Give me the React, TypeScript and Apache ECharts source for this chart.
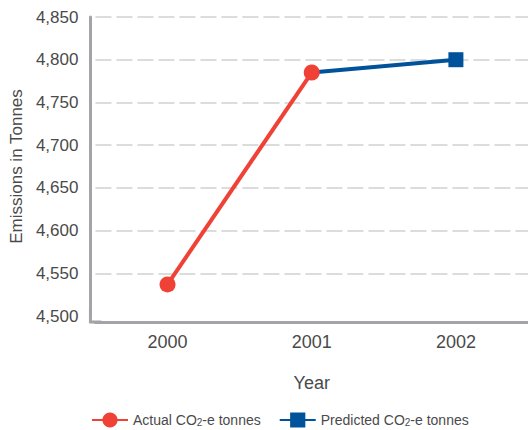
import React, { useEffect, useRef } from "react";
import * as echarts from "echarts";

// Emissions by year
const years = ["2000", "2001", "2002"];
const actualTonnes: (number | null)[] = [4537, 4785, null];
const predictedTonnes: (number | null)[] = [null, 4785, 4800];
const seriesNames = ["Actual CO2-e tonnes", "Predicted CO2-e tonnes"];
const yMin = 4500;
const yMax = 4850;
const yStep = 50;

const FONT = "'Liberation Sans', Arial, Helvetica, sans-serif";
const TEXT = "#4a4a4a";
const AXIS = "#a3a3a8";
const RED = "#ef4136";
const BLUE = "#00529b";

export default function App() {
  const ref = useRef<HTMLDivElement>(null);

  useEffect(() => {
    document.body.style.margin = "0";
    if (!ref.current) return;
    const chart = echarts.init(ref.current, undefined, { renderer: "svg" });

    const predictedData = predictedTonnes.map((v, i) =>
      v === null ? null : i === 1 ? { value: v, symbol: "none" } : v
    );

    chart.setOption({
      animation: false,
      textStyle: { fontFamily: FONT },
      grid: { left: 90, right: -12, top: 17, bottom: 114, containLabel: false },
      xAxis: {
        type: "category",
        data: years,
        boundaryGap: true,
        offset: 6,
        name: "Year",
        nameLocation: "middle",
        nameGap: 52,
        nameTextStyle: { color: TEXT, fontSize: 18, fontFamily: FONT },
        axisLine: {
          lineStyle: { color: AXIS, width: 3 },
          symbol: ["rect", "none"],
          symbolSize: [3, 12],
        },
        axisTick: { show: false },
        axisLabel: { color: TEXT, fontSize: 18, margin: 11, fontFamily: FONT },
        splitLine: { show: false },
      },
      yAxis: {
        type: "value",
        min: yMin,
        max: yMax,
        interval: yStep,
        offset: 5,
        name: "Emissions in Tonnes",
        nameLocation: "middle",
        nameGap: 49,
        nameTextStyle: { color: TEXT, fontSize: 17, fontFamily: FONT },
        axisLine: {
          show: true,
          lineStyle: { color: AXIS, width: 3 },
          symbol: ["rect", "none"],
          symbolSize: [3, 14],
        },
        axisTick: { show: false },
        axisLabel: {
          color: TEXT,
          fontSize: 17,
          margin: 12,
          fontFamily: FONT,
          formatter: (v: number) => v.toLocaleString("en-US"),
        },
        splitLine: {
          show: true,
          showMinLine: false,
          lineStyle: { color: "#dcdcdc", width: 2, type: [16, 5] },
        },
      },
      legend: {
        left: 86,
        top: 407,
        itemWidth: 36,
        itemHeight: 19,
        itemGap: 18,
        data: seriesNames,
        formatter: (name: string) => name.replace("CO2", "CO{sub|2}"),
        textStyle: {
          color: TEXT,
          fontSize: 14,
          lineHeight: 16,
          fontFamily: FONT,
          rich: {
            sub: { fontSize: 10, lineHeight: 16, padding: [4, 0, 0, 0], fontFamily: FONT, color: TEXT },
          },
        },
      },
      series: [
        {
          name: seriesNames[1],
          type: "line",
          data: predictedData,
          symbol: "rect",
          symbolSize: 15,
          z: 2,
          lineStyle: { color: BLUE, width: 4 },
          itemStyle: { color: BLUE },
          connectNulls: false,
        },
        {
          name: seriesNames[0],
          type: "line",
          data: actualTonnes,
          symbol: "circle",
          symbolSize: 16,
          z: 3,
          lineStyle: { color: RED, width: 4 },
          itemStyle: { color: RED },
          connectNulls: false,
        },
      ],
    });

    return () => chart.dispose();
  }, []);

  return <div ref={ref} style={{ width: 528, height: 430 }} />;
}
